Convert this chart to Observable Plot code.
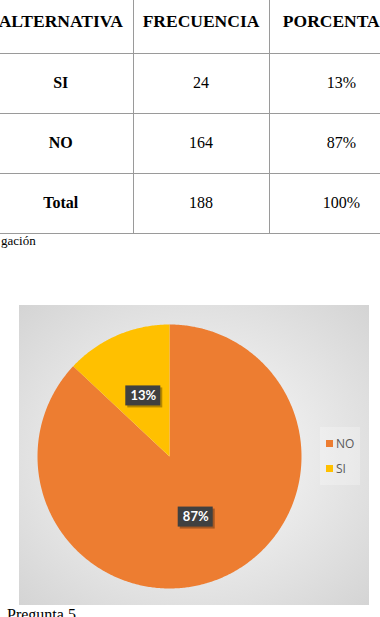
<!DOCTYPE html>
<html><head><meta charset="utf-8">
<script src="https://cdn.jsdelivr.net/npm/d3@7"></script>
<script src="https://cdn.jsdelivr.net/npm/@observablehq/plot@0.6"></script>
<style>
html,body{margin:0;padding:0;background:#fff;}
body{width:380px;height:617px;overflow:hidden;position:relative;}
#tbl{position:absolute;left:-11px;top:-9px;width:425px;table-layout:fixed;border-collapse:collapse;font-family:"Liberation Serif","Times New Roman",serif;font-size:16px;color:#000;}
#tbl td{border:1.5px solid #9a9a9a;text-align:center;vertical-align:middle;padding:0;box-sizing:border-box;white-space:nowrap;overflow:visible;}
#tbl tr.h td{height:62px;font-weight:bold;font-size:17.5px;}
#tbl tr.r td{height:60px;}
#tbl td.c1{font-weight:bold;border-left:none;}
#tbl tr:first-child td{border-top:none;}
#src{position:absolute;left:1px;top:233px;font-family:"Liberation Serif",serif;font-size:13px;}
#box{position:absolute;left:19px;top:305px;width:350px;height:300px;background:radial-gradient(ellipse at 50% 50%, #f7f7f7 0%, #ebebeb 45%, #d4d4d4 100%);}
#box svg{position:absolute;left:0;top:0;}
#legend{position:absolute;left:301px;top:122px;padding:4px 6px;background:rgba(255,255,255,0.25);font-family:"Open Sans","Liberation Sans",sans-serif;font-size:12px;color:#595959;}
#legend div{display:flex;align-items:center;height:25px;}
#legend span.sw{display:inline-block;width:7px;height:7px;margin-right:3px;}
#cap{position:absolute;left:7px;top:606px;font-family:"Liberation Serif",serif;font-size:16px;}
</style>
</head><body>
<table id="tbl"><colgroup><col style="width:144px"><col style="width:136px"><col style="width:145px"></colgroup><tbody id="tb"></tbody></table>
<div id="src"></div>
<div id="box"><div id="legend"></div></div>
<div id="cap"></div>
<script>
// Table data
const headers = ["ALTERNATIVA", "FRECUENCIA", "PORCENTAJE"];
const alternativas = ["SI", "NO", "Total"];
const frecuencias = ["24", "164", "188"];
const porcentajes = ["13%", "87%", "100%"];
const sourceText = "gación";
const captionText = "Pregunta 5";

// Pie data
const pieCategories = ["NO", "SI"];
const pieValues = [87, 13];
const pieLabels = ["87%", "13%"];
const pieColors = ["#ED7D31", "#FFC000"];

// Build table
let html = '<tr class="h">' + headers.map((h, i) => `<td class="c${i+1}">${h}</td>`).join("") + "</tr>";
alternativas.forEach((a, i) => {
  html += `<tr class="r"><td class="c1">${a}</td><td class="c2">${frecuencias[i]}</td><td class="c3">${porcentajes[i]}</td></tr>`;
});
document.getElementById("tb").innerHTML = html;
document.getElementById("src").textContent = sourceText;
document.getElementById("cap").textContent = captionText;

// Pie geometry via d3.pie
const pieData = pieCategories.map((c, i) => ({cat: c, value: pieValues[i], label: pieLabels[i]}));
const arcs = d3.pie().sort(null).value(d => d.value)(pieData);
const slicePts = [];
for (const a of arcs) {
  slicePts.push({cat: a.data.cat, x: 0, y: 0});
  const n = Math.ceil((a.endAngle - a.startAngle) / 0.01);
  for (let i = 0; i <= n; i++) {
    const t = a.startAngle + (a.endAngle - a.startAngle) * i / n;
    slicePts.push({cat: a.data.cat, x: Math.sin(t), y: Math.cos(t)});
  }
  slicePts.push({cat: a.data.cat, x: 0, y: 0});
}
const lbl = arcs.map(a => {
  const m = (a.startAngle + a.endAngle) / 2;
  return {label: a.data.label, x: 0.5 * Math.sin(m), y: 0.5 * Math.cos(m)};
});
const R = 132, cx = 150, cy = 151;
const hw = 17.5 / R, hh = 10 / R;

const chart = Plot.plot({
  width: 350, height: 300,
  margin: 0,
  style: {background: "transparent", overflow: "visible"},
  x: {domain: [-1, 1], range: [cx - R, cx + R], axis: null},
  y: {domain: [-1, 1], range: [cy + R, cy - R], axis: null},
  color: {domain: pieCategories, range: pieColors},
  marks: [
    Plot.line(slicePts, {x: "x", y: "y", z: "cat", fill: "cat", stroke: "none", curve: "linear"}),
    Plot.rect(lbl, {x1: d => d.x - hw, x2: d => d.x + hw, y1: d => d.y - hh, y2: d => d.y + hh, fill: "#000", fillOpacity: 0.3, dx: 2, dy: 2}),
    Plot.rect(lbl, {x1: d => d.x - hw, x2: d => d.x + hw, y1: d => d.y - hh, y2: d => d.y + hh, fill: "#404040"}),
    Plot.text(lbl, {x: "x", y: "y", text: "label", fill: "white", fontSize: 13, fontWeight: "bold", fontFamily: "Lato, 'Open Sans', sans-serif"})
  ]
});
document.getElementById("box").prepend(chart);

// Legend
const lg = document.getElementById("legend");
lg.innerHTML = pieCategories.map((c, i) => `<div><span class="sw" style="background:${pieColors[i]}"></span>${c}</div>`).join("");
</script>
</body></html>
